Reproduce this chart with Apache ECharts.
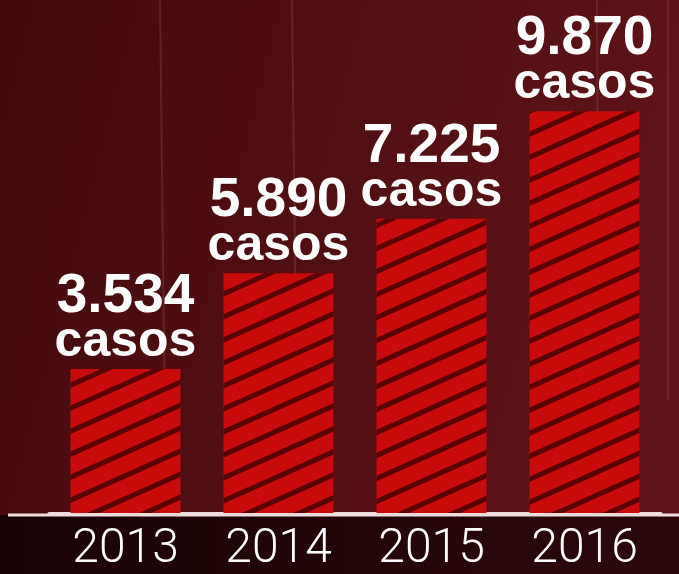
<!DOCTYPE html>
<html><head><meta charset="utf-8">
<script src="https://cdn.jsdelivr.net/npm/echarts@6/dist/echarts.min.js"></script>
<style>html,body{margin:0;padding:0;background:#1f0507}#c{width:679px;height:574px}</style>
</head><body><div id="c"></div>
<script>
const categories = ['2013', '2014', '2015', '2016'];
const values = [3534, 5890, 7225, 9870];
const valueLabels = ['3.534', '5.890', '7.225', '9.870'];
const unitLabel = 'casos';

const chart = echarts.init(document.getElementById('c'));
chart.setOption({
  backgroundColor: {
    type: 'linear', x: 0, y: 0, x2: 1, y2: 0.3,
    colorStops: [{offset: 0, color: '#430a0c'}, {offset: 1, color: '#5e1318'}]
  },
  animation: false,
  graphic: [
    {type: 'rect', z: -10, silent: true, shape: {x: 0, y: 515, width: 679, height: 59},
     style: {fill: {type: 'linear', x: 0, y: 0, x2: 1, y2: 0, colorStops: [{offset: 0, color: '#1a0305'}, {offset: 1, color: '#2c080b'}]}}},
    {type: 'line', z: -9, silent: true, shape: {x1: 160, y1: 0, x2: 166, y2: 514}, style: {stroke: 'rgba(255,200,200,0.12)', lineWidth: 2}},
    {type: 'line', z: -9, silent: true, shape: {x1: 292, y1: 0, x2: 298, y2: 514}, style: {stroke: 'rgba(255,200,200,0.12)', lineWidth: 2}},
    {type: 'line', z: -9, silent: true, shape: {x1: 597, y1: 0, x2: 599, y2: 514}, style: {stroke: 'rgba(255,200,200,0.10)', lineWidth: 2}},
    {type: 'line', z: -9, silent: true, shape: {x1: 668, y1: 0, x2: 668, y2: 400}, style: {stroke: 'rgba(255,200,200,0.10)', lineWidth: 2}},
    {type: 'line', z: 10, silent: true, shape: {x1: 8, y1: 515, x2: 679, y2: 515}, style: {stroke: '#f0dcdc', lineWidth: 3}}
  ],
  grid: {left: 49, right: 18, top: 0, bottom: 59},
  xAxis: {
    type: 'category', data: categories,
    axisLine: {lineStyle: {color: '#f0dcdc', width: 3}},
    axisTick: {show: false},
    axisLabel: {color: '#ffffff', fontFamily: 'Roboto', fontWeight: 300, fontSize: 48, margin: 13}
  },
  yAxis: {type: 'value', min: 0, max: 12600, show: false, splitLine: {show: false}},
  series: [{
    type: 'bar', data: values, barWidth: 110,
    itemStyle: {
      color: '#c90b0b',
      decal: {symbol: 'rect', symbolSize: 1, dashArrayX: [1, 0], dashArrayY: [5, 16], rotation: -0.42, color: 'rgba(60,0,0,0.8)'}
    },
    label: {
      show: true, position: 'top', distance: 5,
      formatter: p => '{n|' + valueLabels[p.dataIndex] + '}\n{u|' + unitLabel + '}',
      rich: {
        n: {color: '#fff', fontFamily: 'Liberation Sans', fontWeight: 'bold', fontSize: 55, lineHeight: 46},
        u: {color: '#fff', fontFamily: 'Liberation Sans', fontWeight: 'bold', fontSize: 50, lineHeight: 44}
      }
    }
  }]
});
</script></body></html>
